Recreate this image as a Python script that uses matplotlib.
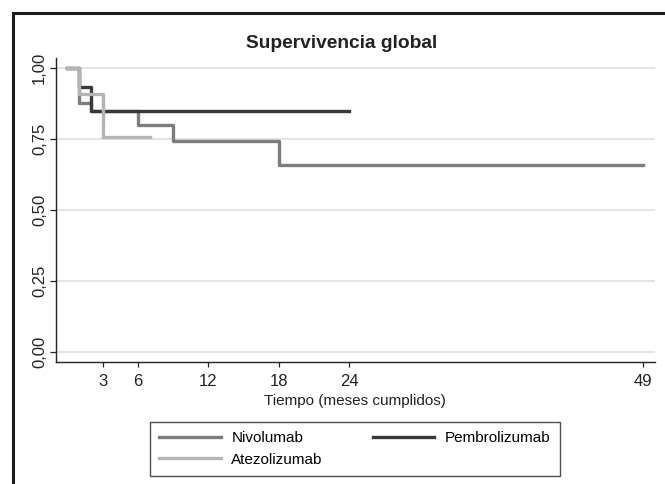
import matplotlib
matplotlib.use("Agg")
import matplotlib.pyplot as plt
from matplotlib.patches import Rectangle

plt.rcParams['font.family'] = ['Liberation Sans', 'DejaVu Sans']

# time (months) and survival for each drug
nivo_t = [0, 1, 2, 6, 9, 18, 49]
nivo_s = [1.0, 0.877, 0.847, 0.798, 0.743, 0.657, 0.657]
pembro_t = [0, 1, 2, 24]
pembro_s = [1.0, 0.933, 0.847, 0.847]
atezo_t = [0, 1, 3, 7]
atezo_s = [1.0, 0.909, 0.757, 0.757]

xticks = [3, 6, 12, 18, 24, 49]
yticks = [0.0, 0.25, 0.5, 0.75, 1.0]
ytick_labels = ["0,00", "0,25", "0,50", "0,75", "1,00"]

W, H = 665, 484
fig = plt.figure(figsize=(W / 100, H / 100), dpi=100)
ax = fig.add_axes([55.7 / W, 1 - 361.7 / H, (655 - 55.7) / W, (361.7 - 58) / H])

for y in yticks:
    ax.axhline(y, color="#dcdcdc", lw=1.1, zorder=0)

l1, = ax.step(nivo_t, nivo_s, where="post", color="#7d7d7d", lw=2.4, label="Nivolumab")
l2, = ax.step(pembro_t, pembro_s, where="post", color="#383838", lw=2.4, label="Pembrolizumab")
l3, = ax.step(atezo_t, atezo_s, where="post", color="#b4b4b4", lw=2.4, label="Atezolizumab")

ax.set_xlim(-1, 50)
ax.set_ylim(-0.035, 1.034)
ax.set_xticks(xticks)
ax.set_yticks(yticks)
ax.set_yticklabels(ytick_labels, rotation=90, va="center")
ax.tick_params(axis="y", length=4.3, width=0.9, pad=2.0, labelsize=12, colors="#222222")
ax.tick_params(axis="x", length=3.6, width=0.9, pad=5, labelsize=12, colors="#222222")
for s in ["top", "right"]:
    ax.spines[s].set_visible(False)
for s in ["left", "bottom"]:
    ax.spines[s].set_linewidth(1.0)
    ax.spines[s].set_color("#222222")

ax.set_xlabel("Tiempo (meses cumplidos)", fontsize=11, labelpad=4, color="#222222")

fig.text(341.5 / W, 1 - 43 / H, "Supervivencia global", ha="center", va="center",
         fontsize=13.8, fontweight="bold", color="#222222")

leg = fig.legend([l1, l3, l2], ["Nivolumab", "Atezolizumab", "Pembrolizumab"],
                 ncol=2, loc="upper left", bbox_to_anchor=(150 / W, 1 - 421.7 / H),
                 fontsize=11, frameon=True, fancybox=False, handlelength=4.0,
                 handletextpad=0.7, columnspacing=3.3, borderpad=0.62,
                 labelspacing=0.48, borderaxespad=0)
leg.get_frame().set_edgecolor("#222222")
leg.get_frame().set_linewidth(1.0)

# outer frame (cropped at right and bottom)
fig.patches.append(Rectangle((13 / W, -0.1), 1.2, 1 - 13 / H + 0.1,
                             transform=fig.transFigure, fill=False,
                             edgecolor="#1a1a1a", lw=2.2, clip_on=False))

fig.savefig("out.png", dpi=100)
